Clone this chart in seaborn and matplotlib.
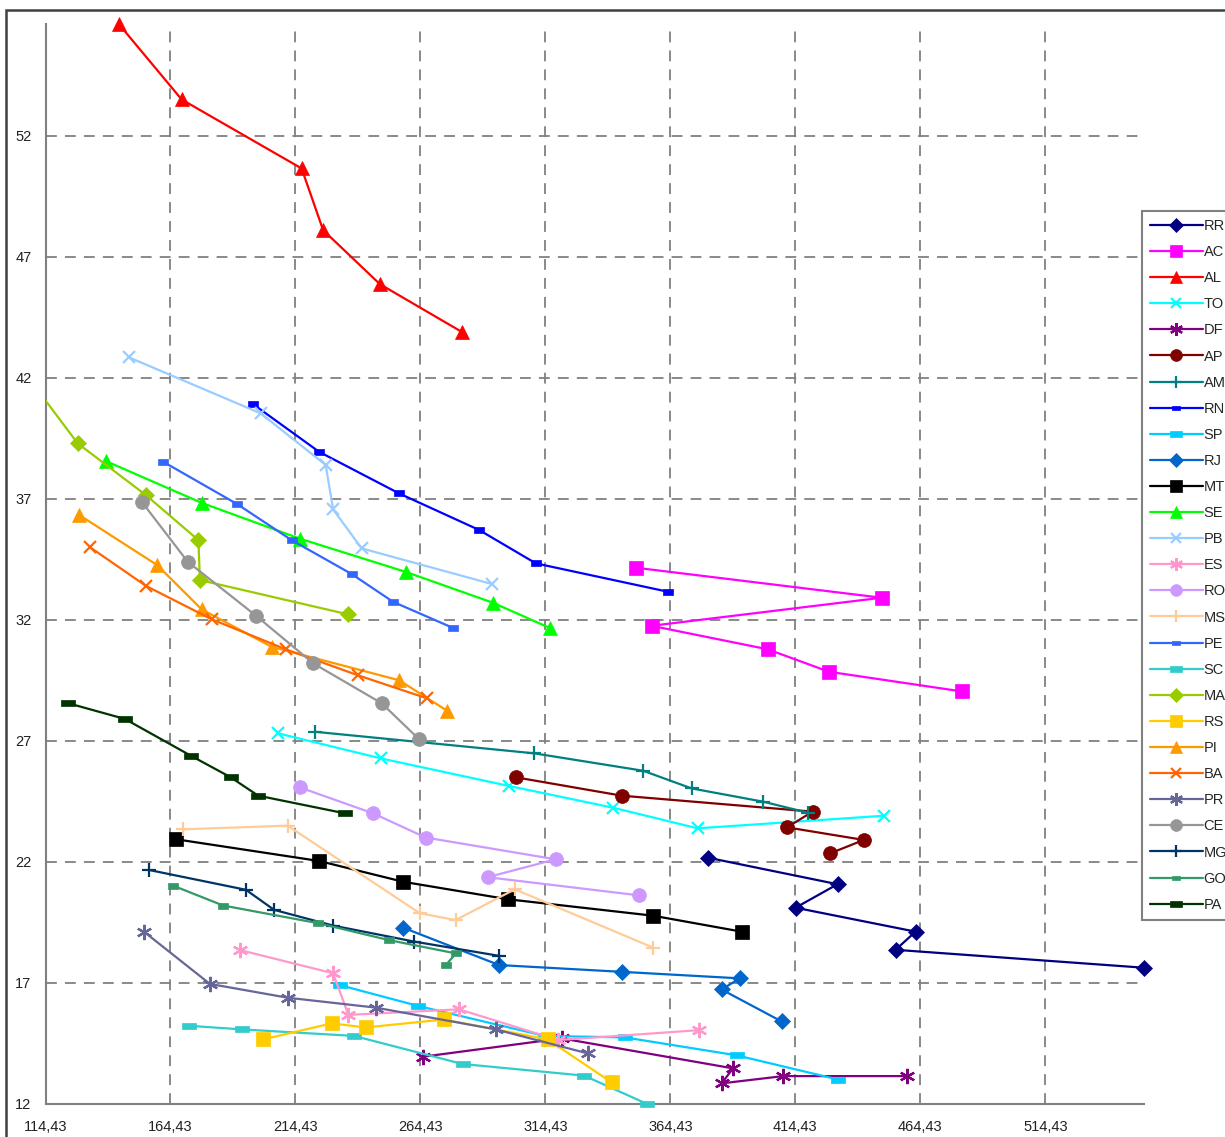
import matplotlib
matplotlib.use("Agg")
import matplotlib.pyplot as plt
import seaborn as sns
import numpy as np
from matplotlib.patches import Rectangle
from matplotlib.ticker import FixedLocator, FuncFormatter

# Trajectories per state (x, y)
RR_x = [379.3, 431.3, 414.5, 462.5, 454.5, 553.8]
RR_y = [22.17, 21.07, 20.10, 19.11, 18.36, 17.62]
AC_x = [350.6, 448.9, 356.9, 403.3, 427.9, 480.9]
AC_y = [34.15, 32.91, 31.75, 30.78, 29.85, 29.04]
AL_x = [143.9, 168.9, 216.9, 225.5, 248.2, 280.9]
AL_y = [56.60, 53.50, 50.65, 48.10, 45.87, 43.90]
TO_x = [207.3, 248.6, 299.9, 341.6, 375.3, 449.8]
TO_y = [27.31, 26.27, 25.13, 24.23, 23.38, 23.90]
DF_x = [265.3, 320.9, 389.5, 384.9, 409.5, 458.9]
DF_y = [13.94, 14.70, 13.46, 12.84, 13.14, 13.14]
AP_x = [302.5, 344.9, 421.3, 411.1, 441.8, 428.2]
AP_y = [25.49, 24.73, 24.07, 23.42, 22.90, 22.34]
AM_x = [222.2, 309.9, 353.5, 372.9, 401.6, 419.6]
AM_y = [27.37, 26.48, 25.76, 25.03, 24.48, 24.02]
RN_x = [197.6, 223.9, 255.9, 287.9, 310.6, 363.3]
RN_y = [40.90, 38.94, 37.22, 35.71, 34.33, 33.16]
SP_x = [232.2, 263.5, 314.2, 346.2, 390.9, 431.5]
SP_y = [16.90, 16.04, 14.80, 14.74, 14.00, 13.00]
RJ_x = [257.6, 295.9, 344.9, 392.2, 384.9, 408.9]
RJ_y = [19.27, 17.73, 17.45, 17.18, 16.72, 15.40]
MT_x = [166.5, 223.9, 257.6, 299.3, 357.5, 392.9]
MT_y = [22.93, 22.03, 21.17, 20.45, 19.77, 19.11]
SE_x = [138.5, 176.9, 216.2, 258.5, 293.5, 316.2]
SE_y = [38.56, 36.83, 35.35, 33.98, 32.70, 31.66]
PB_x = [147.9, 200.5, 226.5, 229.5, 240.9, 292.9]
PB_y = [42.84, 40.53, 38.40, 36.56, 34.95, 33.48]
ES_x = [192.2, 229.5, 235.6, 279.9, 319.5, 375.9]
ES_y = [18.35, 17.39, 15.67, 15.90, 14.63, 15.04]
RO_x = [216.2, 245.5, 266.5, 318.5, 291.3, 351.9]
RO_y = [25.07, 24.00, 23.00, 22.10, 21.36, 20.61]
MS_x = [169.5, 211.3, 264.2, 278.5, 302.2, 357.5]
MS_y = [23.34, 23.49, 19.87, 19.59, 20.86, 18.45]
PE_x = [161.5, 191.1, 212.9, 236.9, 253.5, 277.5]
PE_y = [38.53, 36.78, 35.29, 33.89, 32.74, 31.66]
SC_x = [171.8, 193.1, 237.9, 281.3, 329.9, 354.9]
SC_y = [15.22, 15.07, 14.80, 13.64, 13.16, 12.00]
MA_x = [105.0, 127.3, 154.6, 175.6, 176.2, 235.6]
MA_y = [42.36, 39.29, 37.15, 35.29, 33.64, 32.22]
RS_x = [201.6, 228.9, 242.5, 273.8, 315.3, 340.9]
RS_y = [14.66, 15.32, 15.15, 15.48, 14.66, 12.88]
PI_x = [127.9, 159.1, 176.9, 204.9, 255.9, 275.1]
PI_y = [36.33, 34.26, 32.43, 30.88, 29.50, 28.24]
BA_x = [132.2, 154.6, 180.9, 210.5, 239.3, 267.1]
BA_y = [35.00, 33.40, 32.02, 30.78, 29.71, 28.75]
PR_x = [153.8, 180.2, 211.3, 246.6, 294.6, 331.3]
PR_y = [19.11, 16.95, 16.38, 15.97, 15.07, 14.08]
CE_x = [152.9, 171.3, 198.6, 221.5, 248.9, 263.9]
CE_y = [36.88, 34.40, 32.17, 30.20, 28.55, 27.06]
MG_x = [155.8, 194.6, 205.9, 229.5, 261.9, 295.9]
MG_y = [21.66, 20.84, 20.01, 19.36, 18.70, 18.11]
GO_x = [165.5, 185.5, 223.5, 251.9, 278.6, 274.6]
GO_y = [21.01, 20.19, 19.46, 18.76, 18.21, 17.73]
PA_x = [123.5, 146.2, 172.6, 188.5, 199.5, 234.2]
PA_y = [28.55, 27.90, 26.38, 25.49, 24.73, 24.00]

x_ticks = [114.43, 164.43, 214.43, 264.43, 314.43, 364.43, 414.43, 464.43, 514.43]
y_ticks = [12, 17, 22, 27, 32, 37, 42, 47, 52]

# marker shapes
bar = [(-1, -0.55), (1, -0.55), (1, 0.55), (-1, 0.55), (-1, -0.55)]
wide_bar = [(-1, -0.45), (1, -0.45), (1, 0.45), (-1, 0.45), (-1, -0.45)]
asterisk = (6, 2, 0)

series = [
    ("RR", RR_x, RR_y, "#000080", "D", 8),
    ("AC", AC_x, AC_y, "#FF00FF", "s", 10),
    ("AL", AL_x, AL_y, "#FF0000", "^", 10),
    ("TO", TO_x, TO_y, "#00FFFF", "x", 9),
    ("DF", DF_x, DF_y, "#800080", asterisk, 11),
    ("AP", AP_x, AP_y, "#800000", "o", 10),
    ("AM", AM_x, AM_y, "#008080", "+", 10),
    ("RN", RN_x, RN_y, "#0000FF", bar, 7),
    ("SP", SP_x, SP_y, "#00CCFF", wide_bar, 10),
    ("RJ", RJ_x, RJ_y, "#0066CC", "D", 8),
    ("MT", MT_x, MT_y, "#000000", "s", 10),
    ("SE", SE_x, SE_y, "#00FF00", "^", 10),
    ("PB", PB_x, PB_y, "#99CCFF", "x", 9),
    ("ES", ES_x, ES_y, "#FF99CC", asterisk, 11),
    ("RO", RO_x, RO_y, "#CC99FF", "o", 10),
    ("MS", MS_x, MS_y, "#FFCC99", "+", 10),
    ("PE", PE_x, PE_y, "#3366FF", bar, 7),
    ("SC", SC_x, SC_y, "#33CCCC", wide_bar, 10),
    ("MA", MA_x, MA_y, "#99CC00", "D", 8),
    ("RS", RS_x, RS_y, "#FFCC00", "s", 10),
    ("PI", PI_x, PI_y, "#FF9900", "^", 10),
    ("BA", BA_x, BA_y, "#FF6600", "x", 9),
    ("PR", PR_x, PR_y, "#666699", asterisk, 11),
    ("CE", CE_x, CE_y, "#969696", "o", 10),
    ("MG", MG_x, MG_y, "#003366", "+", 10),
    ("GO", GO_x, GO_y, "#339966", bar, 7),
    ("PA", PA_x, PA_y, "#003300", wide_bar, 10),
]

sns.set_style("white")
plt.rcParams["font.family"] = ["Liberation Sans", "DejaVu Sans"]

fig = plt.figure(figsize=(12.25, 11.37), dpi=100)
ax = fig.add_axes([45.5 / 1225, 1 - 1103.7 / 1137, (1144 - 45.5) / 1225, (1103.7 - 24) / 1137])

xmin, xmax = 114.43, 553.9
ymin, ymax = 12.0, 56.62

# dashed grid
for gx in x_ticks[1:]:
    ax.axvline(gx, color="#808080", lw=1.3, ls=(0, (6, 4.5)), zorder=1)
for gy in y_ticks[1:]:
    ax.axhline(gy, color="#808080", lw=1.3, ls=(0, (6, 4.5)), zorder=1)

handles = []
for name, xs, ys, col, mk, ms in series:
    line_marks = mk in ("x", "+", asterisk)
    sns.lineplot(
        x=xs, y=ys, ax=ax, sort=False, estimator=None,
        color=col, lw=1.6, marker=mk, markersize=ms,
        markerfacecolor=col, markeredgecolor=col,
        markeredgewidth=1.6 if line_marks else 0.5,
        clip_on=(name == "MA"), zorder=3, label=name, legend=False,
    )
    handles.append(ax.lines[-1])

ax.set_xlim(xmin, xmax)
ax.set_ylim(ymin, ymax)
ax.xaxis.set_major_locator(FixedLocator(x_ticks))
ax.yaxis.set_major_locator(FixedLocator(y_ticks))
ax.xaxis.set_major_formatter(FuncFormatter(lambda v, p: f"{v:.2f}".replace(".", ",")))
ax.yaxis.set_major_formatter(FuncFormatter(lambda v, p: f"{v:.0f}"))
ax.tick_params(axis="both", direction="inout", length=8, width=1.2, color="#808080",
               labelsize=10.5, labelcolor="#222222")
ax.tick_params(axis="x", pad=8)
ax.tick_params(axis="y", pad=6)

for side in ("top", "right"):
    ax.spines[side].set_visible(False)
for side in ("left", "bottom"):
    ax.spines[side].set_color("#808080")
    ax.spines[side].set_linewidth(1.5)
ax.set_xlabel("")
ax.set_ylabel("")

leg = fig.legend(
    handles=handles, labels=[s[0] for s in series],
    loc="upper left", bbox_to_anchor=(1142 / 1225, 1 - 211 / 1137),
    frameon=True, fancybox=False, edgecolor="#808080", framealpha=1,
    fontsize=10.5, handlelength=3.6, handletextpad=0.08, labelspacing=0.83,
    borderpad=0.55, borderaxespad=0, numpoints=1, markerscale=0.85,
)
leg.get_frame().set_linewidth(1.5)

# outer chart border
fig.patches.append(Rectangle((6 / 1225, -0.05), 1.2, 1 - 10 / 1137 + 0.05,
                             transform=fig.transFigure, fill=False,
                             edgecolor="#404040", lw=1.8, zorder=0))

fig.savefig("out.png", dpi=100)
